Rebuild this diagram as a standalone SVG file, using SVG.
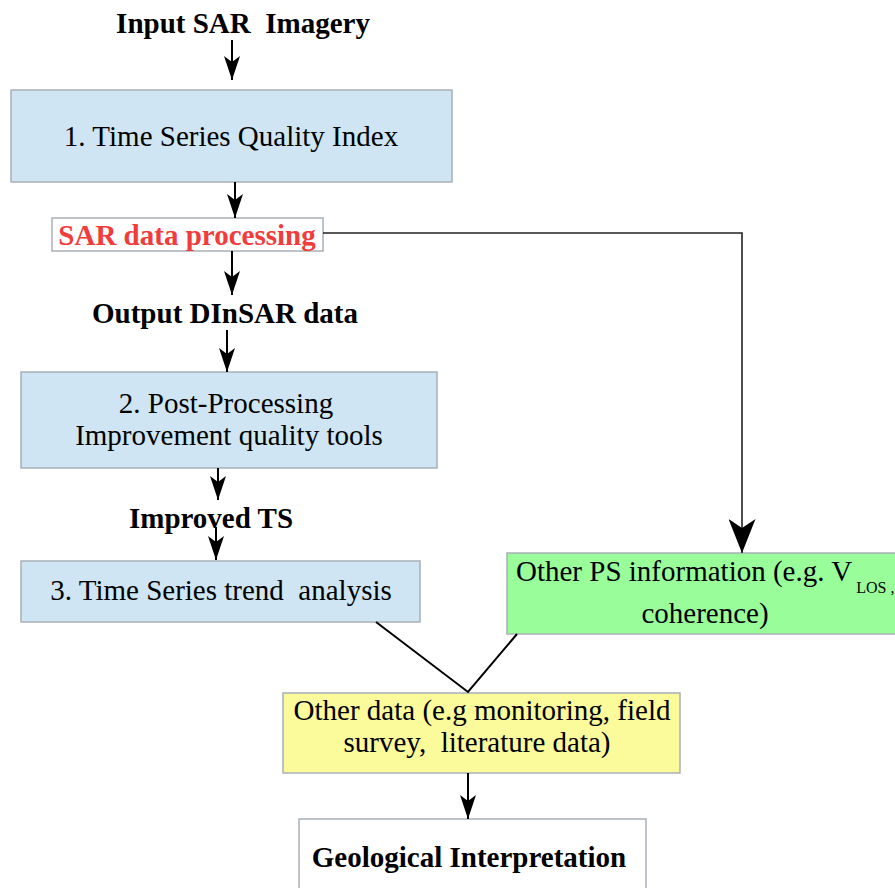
<svg xmlns="http://www.w3.org/2000/svg" width="895" height="888" viewBox="0 0 895 888">
<defs>
<style>
text{font-family:"Liberation Serif","Times New Roman",serif;font-size:29px;fill:#000;white-space:pre}
.b{font-weight:bold}
.m{text-anchor:middle}
.box{stroke:#a8b0b6;stroke-width:1.5}
.blue{fill:#cfe5f3}
.c{fill:none;stroke:#000;stroke-width:2}
</style>
<marker id="ah" viewBox="0 0 24 16" refX="24" refY="8" markerWidth="24" markerHeight="16" markerUnits="userSpaceOnUse" orient="auto">
<path d="M0,0 L24,8 L0,16 L6,8 Z" fill="#000"/>
</marker>
<marker id="ahb" viewBox="0 0 34 27" refX="34" refY="13.5" markerWidth="34" markerHeight="27" markerUnits="userSpaceOnUse" orient="auto">
<path d="M0,0 L34,13.5 L0,27 L9,13.5 Z" fill="#000"/>
</marker>
</defs>
<rect width="895" height="888" fill="#fff"/>
<g id="input"><text class="b m" x="243" y="33">Input SAR  Imagery</text></g>
<g id="n1"><rect class="box blue" x="11" y="90" width="441" height="92"/><text class="m" x="231" y="146">1. Time Series Quality Index</text></g>
<g id="sarproc"><rect class="box" fill="#fff" x="52" y="218" width="271" height="33"/><text class="b m" x="187" y="245" style="fill:#f23b3b">SAR data processing</text></g>
<g id="output"><text class="b m" x="225" y="323">Output DInSAR data</text></g>
<g id="n2"><rect class="box blue" x="21" y="372" width="416" height="96"/><text class="m" x="226" y="413">2. Post-Processing</text><text class="m" x="229" y="445">Improvement quality tools</text></g>
<g id="improved"><text class="b m" x="211" y="528">Improved TS</text></g>
<g id="n3"><rect class="box blue" x="21" y="561" width="399" height="61"/><text class="m" x="221" y="600">3. Time Series trend  analysis</text></g>
<g id="otherps"><rect class="box" fill="#99fd99" x="507" y="553" width="400" height="81"/><text x="516" y="581">Other PS information (e.g. V<tspan font-size="16" dy="12" dx="4">LOS ,</tspan></text><text class="m" x="705" y="623">coherence)</text></g>
<g id="otherdata"><rect class="box" fill="#fbfb9c" x="283" y="693" width="397" height="80"/><text class="m" x="482" y="720">Other data (e.g monitoring, field</text><text class="m" x="477" y="752">survey,  literature data)</text></g>
<g id="geo"><rect class="box" fill="#fff" x="299" y="819" width="347" height="80"/><text class="b m" x="469" y="867">Geological Interpretation</text></g>
<g id="connectors">
<path class="c" d="M232,40 V80" marker-end="url(#ah)"/>
<path class="c" d="M235,182 V218" marker-end="url(#ah)"/>
<path class="c" d="M232,251 V295" marker-end="url(#ah)"/>
<path class="c" d="M227,330 V372" marker-end="url(#ah)"/>
<path class="c" d="M218,468 V500" marker-end="url(#ah)"/>
<path class="c" d="M216,527 V560" marker-end="url(#ah)"/>
<path class="c" style="stroke-width:1.6;stroke:#222" d="M323,233 H742 V553" marker-end="url(#ahb)"/>
<path class="c" d="M376,622 L468,692 L517,634"/>
<path class="c" d="M468,773 V819" marker-end="url(#ah)"/>
</g>
</svg>
